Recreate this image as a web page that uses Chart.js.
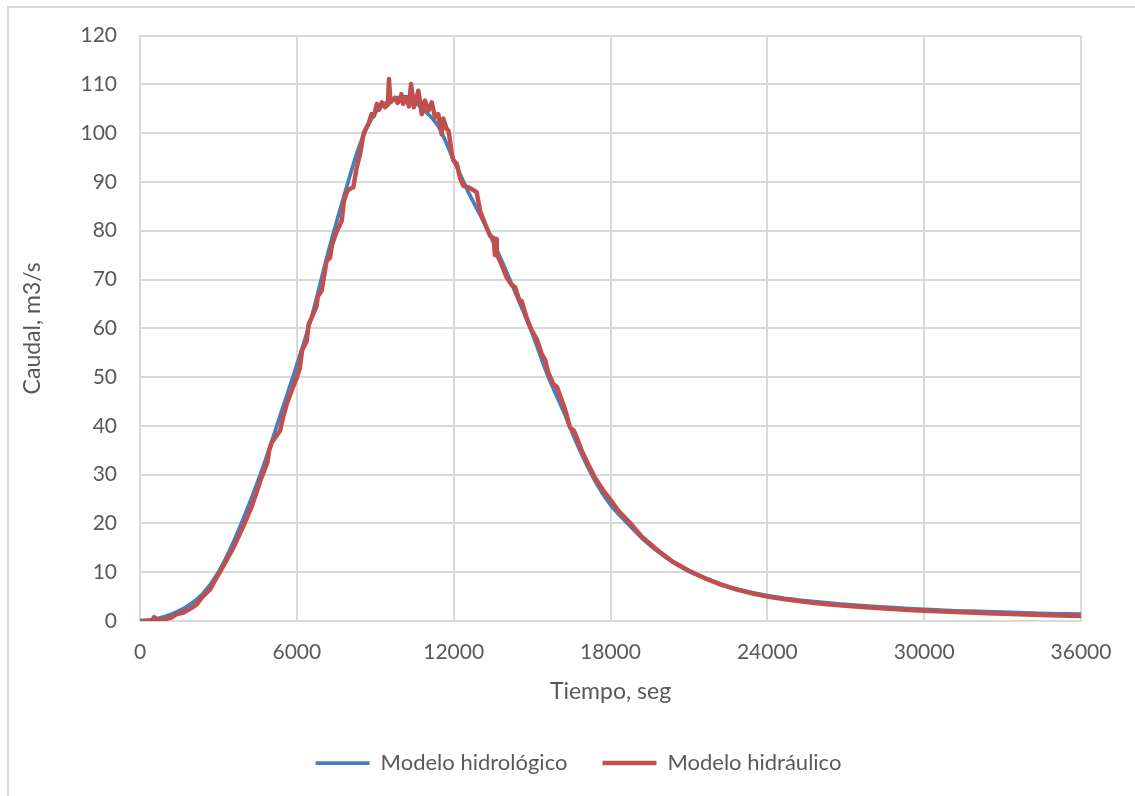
<!DOCTYPE html>
<html>
<head>
<meta charset="utf-8">
<title>Caudal vs tiempo</title>
<script src="https://cdn.jsdelivr.net/npm/chart.js@4/dist/chart.umd.min.js"></script>
<style>
  html, body { margin: 0; padding: 0; background: #fff; overflow: hidden; }
  #frame { position: absolute; left: 7px; top: 6px; width: 1140px; height: 800px; border: 2px solid #d9d9d9; box-sizing: border-box; }
  #wrap { position: absolute; left: 0; top: 0; width: 1135px; height: 796px; }
</style>
</head>
<body>
<div id="frame"></div>
<div id="wrap"><canvas id="flowChart" width="1135" height="796"></canvas></div>
<script>
// Modelo hidrológico (seg, m3/s)
const hydroTime = [0, 600, 1200, 1800, 2400, 3000, 3600, 4200, 4800, 5400, 6000, 6600, 7200, 7800, 8400,
  9000, 9600, 10200, 10800, 11400, 12000, 12600, 13200, 13800, 14400, 15000, 15600, 16200, 16800, 17400,
  18000, 18600, 19200, 19800, 20400, 21000, 21600, 22200, 22800, 23400, 24000, 24600, 25200, 25800, 26400,
  27000, 27600, 28200, 28800, 29400, 30000, 30600, 31200, 31800, 32400, 33000, 33600, 34200, 34800, 35400, 36000];
const hydroFlow = [0, 0.4, 1.4, 3.0, 5.6, 10, 16.5, 24.3, 33, 42.7, 52.5, 63, 75.6, 87, 97.5,
  104.2, 106.8, 107.5, 105, 101.5, 94.5, 87.5, 81.3, 74.3, 66.8, 59, 50.3, 43, 35.3, 28.8,
  23.8, 20.3, 17, 14.3, 12, 10.2, 8.8, 7.6, 6.6, 5.8, 5.2, 4.7, 4.3, 3.95, 3.65,
  3.4, 3.15, 2.95, 2.75, 2.55, 2.4, 2.25, 2.1, 2.0, 1.9, 1.8, 1.7, 1.6, 1.5, 1.45, 1.4];

// Modelo hidráulico (seg, m3/s)
const hydraTime = [0, 450, 540, 700, 900, 1200, 1400, 1650, 1980, 2170, 2360, 2680, 2930, 3190, 3570,
  3950, 4270, 4530, 4600, 4880, 4940, 5040, 5360, 5460, 5610, 5800, 6000, 6120, 6200, 6260,
  6380, 6450, 6570, 6760, 6800, 6950, 7140, 7270, 7340, 7500, 7720, 7800, 7910, 8000, 8160,
  8290, 8420, 8550, 8600, 8740, 8860, 8950, 9060, 9150, 9250, 9370, 9480, 9525, 9580, 9760,
  9850, 9950, 10000, 10070, 10200, 10290, 10370, 10480, 10560, 10650, 10780, 10850, 10900, 11030, 11160,
  11290, 11410, 11540, 11600, 11730, 11800, 11860, 11930, 11990, 12120, 12180, 12240, 12370, 12560, 12700,
  12880, 13010, 13200, 13390, 13530, 13580, 13620, 13650, 13770, 13850, 14030, 14200, 14350, 14540, 14600,
  14790, 14990, 15180, 15370, 15500, 15620, 15810, 15950, 16070, 16260, 16450, 16600, 16710, 16900, 17150,
  17400, 17730, 17980, 18300, 18700, 19200, 19800, 20400, 21000, 21600, 22200, 22800, 23400, 24000, 24600,
  25200, 25800, 26400, 27000, 27600, 28200, 28800, 29400, 30000, 31200, 32400, 33600, 34800, 36000];
const hydraFlow = [0, 0, 0.8, 0.1, 0.3, 0.7, 1.4, 1.7, 2.7, 3.4, 4.8, 6.5, 8.9, 11.3, 15,
  19.4, 23.4, 27.5, 28.7, 32.6, 34.9, 36.6, 39, 41.5, 44.4, 47.2, 49.9, 52, 55.5, 56.1,
  57.4, 60.8, 62.2, 64.6, 66.5, 67.7, 73.8, 74.5, 77, 79.5, 82.1, 86, 87.9, 88.5, 88.9,
  93, 95.7, 99.8, 100.5, 101.9, 103.9, 103.5, 106, 104.8, 106.3, 105.3, 105.8, 111.1, 106.3, 107.3,
  106.2, 106.7, 108, 106, 107.3, 105.5, 110.1, 105.3, 107, 108.7, 103.9, 106, 106.7, 104.6, 106.3,
  103.2, 103.9, 99.8, 103, 100.9, 100.5, 98.5, 95.7, 94.4, 93.7, 92.3, 90.9, 89.2, 88.9, 88.5,
  87.9, 84.1, 81.4, 79, 78.5, 75, 78.3, 75.2, 73.8, 72.8, 70.4, 69, 68.4, 65.3, 65.6,
  62.2, 59.5, 57.8, 54.7, 53.5, 50.9, 48.6, 48, 46.2, 43.4, 39.7, 39, 37.6, 34.9, 32.1,
  29.4, 26.7, 25, 22.6, 20.4, 17.3, 14.5, 12.1, 10.3, 8.8, 7.5, 6.5, 5.7, 5.0, 4.5,
  4.1, 3.7, 3.4, 3.1, 2.85, 2.65, 2.45, 2.25, 2.1, 1.85, 1.6, 1.4, 1.2, 1.05];

const seriesLabels = ['Modelo hidrológico', 'Modelo hidráulico'];
const xTicks = { min: 0, max: 36000, step: 6000 };
const yTicks = { min: 0, max: 120, step: 10 };

document.addEventListener('DOMContentLoaded', () => {
  const ctx = document.getElementById('flowChart').getContext('2d');
  const textColor = '#595959';
  const gridColor = '#d9d9d9';
  const fontFamily = 'Lato, "Open Sans", sans-serif';

  const toPoints = (xs, ys) => xs.map((x, i) => ({ x: x, y: ys[i] }));

  new Chart(ctx, {
    type: 'line',
    data: {
      datasets: [
        {
          label: seriesLabels[0],
          data: toPoints(hydroTime, hydroFlow),
          borderColor: '#4a7ebb',
          backgroundColor: '#4a7ebb',
          borderWidth: 3.75,
          pointRadius: 0,
          cubicInterpolationMode: 'monotone',
          borderJoinStyle: 'round',
          order: 1
        },
        {
          label: seriesLabels[1],
          data: toPoints(hydraTime, hydraFlow),
          borderColor: '#c0504d',
          backgroundColor: '#c0504d',
          borderWidth: 4.5,
          pointRadius: 0,
          tension: 0,
          borderJoinStyle: 'round',
          borderCapStyle: 'round',
          order: 0
        }
      ]
    },
    options: {
      responsive: false,
      animation: false,
      layout: { padding: { left: 76, right: 54, top: 35, bottom: 12 } },
      plugins: {
        tooltip: { enabled: false },
        legend: {
          position: 'bottom',
          labels: {
            color: textColor,
            font: { family: fontFamily, size: 22 },
            usePointStyle: true,
            pointStyle: 'line',
            pointStyleWidth: 54,
            padding: 35,
            sort: (a, b) => a.datasetIndex - b.datasetIndex
          }
        }
      },
      scales: {
        x: {
          type: 'linear',
          min: xTicks.min,
          max: xTicks.max,
          grid: { color: gridColor, lineWidth: 2, drawTicks: false },
          border: { color: gridColor, width: 2 },
          ticks: {
            stepSize: xTicks.step,
            color: textColor,
            padding: 19,
            maxRotation: 0,
            font: { family: fontFamily, size: 21 },
            callback: (v) => String(v)
          },
          title: {
            display: true,
            text: 'Tiempo, seg',
            color: textColor,
            font: { family: fontFamily, size: 23 },
            padding: { top: 0, bottom: 12 }
          },
          afterFit: (scale) => { scale.height = 96; }
        },
        y: {
          min: yTicks.min,
          max: yTicks.max,
          grid: { color: gridColor, lineWidth: 2, drawTicks: false },
          border: { color: gridColor, width: 2 },
          ticks: {
            stepSize: yTicks.step,
            color: textColor,
            padding: 23,
            font: { family: fontFamily, size: 21 }
          },
          title: {
            display: true,
            text: 'Caudal, m3/s',
            color: textColor,
            font: { family: fontFamily, size: 23 },
            padding: { top: -56.8, bottom: 0 }
          },
          afterFit: (scale) => { scale.width = 64; }
        }
      }
    }
  });
});
</script>
</body>
</html>
